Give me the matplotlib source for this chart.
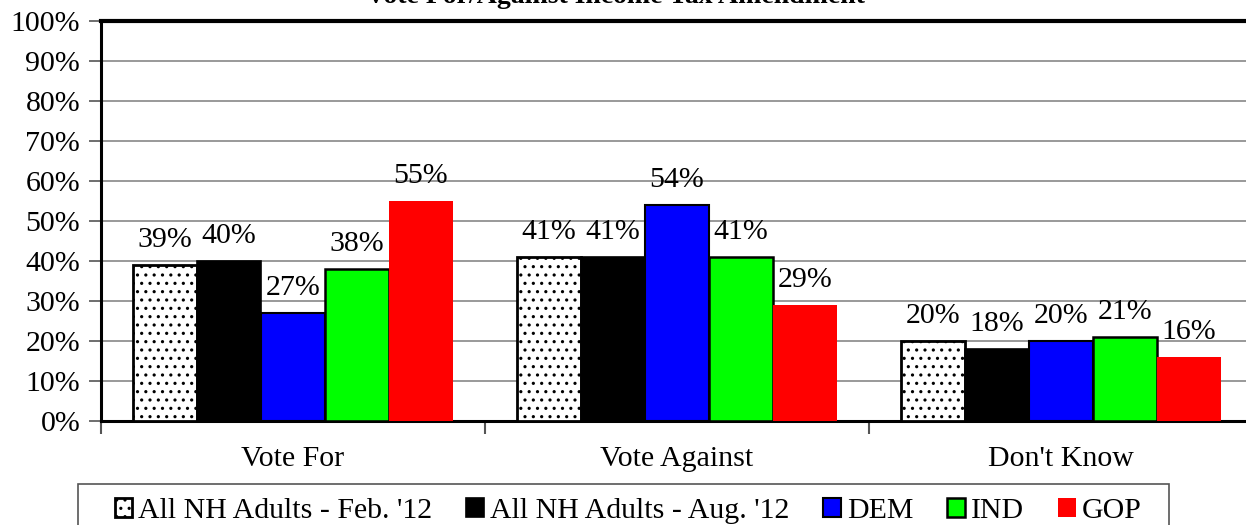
import matplotlib
matplotlib.use("Agg")
import matplotlib.pyplot as plt
from matplotlib.patches import Rectangle
import numpy as np

categories = ["Vote For", "Vote Against", "Don't Know"]
series_names = ["All NH Adults - Feb. '12", "All NH Adults - Aug. '12", "DEM", "IND", "GOP"]
feb12 = [39, 41, 20]
aug12 = [40, 41, 18]
dem = [27, 54, 20]
ind = [38, 41, 21]
gop = [55, 29, 16]
title = "Vote For/Against Income Tax Amendment"
yticks = list(range(0, 101, 10))

series = [feb12, aug12, dem, ind, gop]
colors = ["white", "black", "#0000FF", "#00FF00", "#FF0000"]
edgecolors = ["black", "black", "black", "black", "none"]
edgewidths = [2.0, 1.2, 1.5, 1.8, 0]
hatches = ["..", None, None, None, None]

plt.rcParams['font.family'] = ['Liberation Serif', 'DejaVu Serif']
plt.rcParams['hatch.color'] = '#707070'
plt.rcParams['hatch.linewidth'] = 1.1

fig = plt.figure(figsize=(12.46, 5.25), dpi=100)
ax = fig.add_axes([101/1246, 1-421/525, 1152/1246, 400/525])

FS = 21.5
x = np.arange(len(categories))
w = 1/6
for i, vals in enumerate(series):
    pos = x + (i - 2) * w
    ax.bar(pos, vals, width=w, color=colors[i], edgecolor=edgecolors[i],
           linewidth=edgewidths[i], hatch=hatches[i], label=series_names[i], zorder=3)
    for p, v in zip(pos, vals):
        ax.text(p, v + 3.0, f"{v}%", ha='center', va='bottom', fontsize=FS, zorder=4)

ax.set_xlim(-0.5, 2.5)
ax.set_ylim(0, 100)
ax.set_yticks(yticks)
ax.set_yticklabels([f"{t}%" for t in yticks], fontsize=FS)
ax.set_xticks([-0.5, 0.5, 1.5, 2.5])
ax.set_xticklabels([])
ax.set_xticks(x, minor=True)
ax.set_xticklabels(categories, minor=True, fontsize=FS)
ax.tick_params(axis='x', which='minor', length=0, pad=18)
ax.tick_params(axis='x', which='major', length=9, color='#555555', width=1.5)
ax.tick_params(axis='y', length=9, color='#555555', width=1.2, pad=6)
ax.yaxis.grid(True, color='#888888', linewidth=1.2, zorder=0)
ax.set_axisbelow(True)

for s in ['left', 'bottom']:
    ax.spines[s].set_linewidth(2.2)
    ax.spines[s].set_color('black')
ax.spines['top'].set_linewidth(3)
ax.spines['top'].set_color('black')
ax.spines['right'].set_visible(False)

fig.text(615/1246, 1 - 3/525, title, ha='center', va='baseline', fontsize=20, fontweight='bold')

leg = fig.legend(loc='center', bbox_to_anchor=(628/1246, 1-511/525), ncol=5,
                 fontsize=FS, frameon=False,
                 handlelength=0.58, handleheight=0.58, handletextpad=0.2,
                 columnspacing=1.15, borderpad=0.0, borderaxespad=0)
fig.patches.append(Rectangle((78/1246, -0.05), (1169-78)/1246, 0.05 + 41/525,
                             transform=fig.transFigure, fill=False,
                             edgecolor='#555555', linewidth=1.2))

fig.savefig("out.png", dpi=100)
